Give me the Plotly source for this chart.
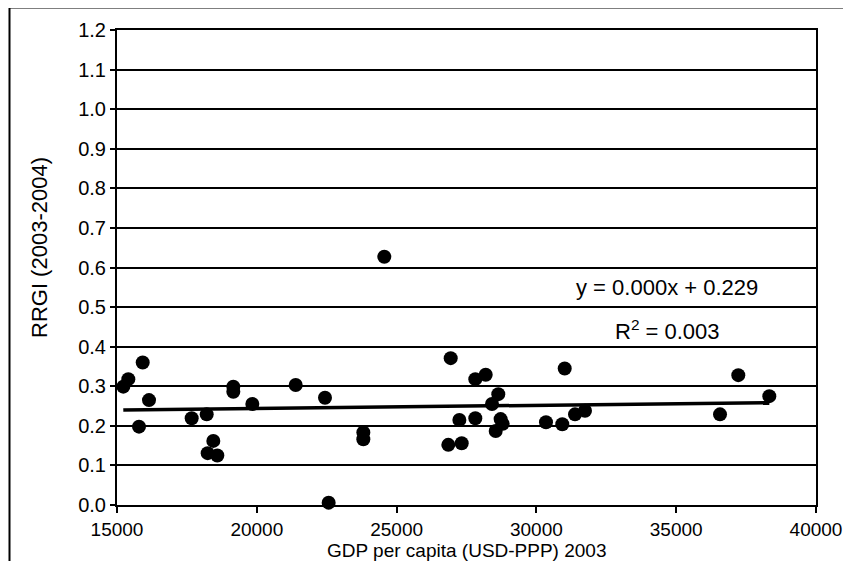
import numpy as np
import plotly.graph_objects as go

gdp = [15225, 15405, 15919, 16145, 15787, 17671, 18208, 18445, 18243, 18588,
       19160, 19160, 19840, 21391, 22439, 22570,
       24560, 23810, 23810, 26935, 27815, 28187, 28637, 28412, 27245, 27815,
       28720, 28794, 28544, 26849, 27328, 30343, 30926, 31012, 31381, 31738,
       37221, 38330, 36567]
rrgi = [0.299, 0.318, 0.360, 0.265, 0.198, 0.219, 0.229, 0.162, 0.131, 0.125,
        0.299, 0.286, 0.255, 0.303, 0.271, 0.006,
        0.627, 0.183, 0.166, 0.371, 0.318, 0.329, 0.280, 0.255, 0.215, 0.219,
        0.217, 0.205, 0.187, 0.152, 0.156, 0.209, 0.204, 0.345, 0.229, 0.238,
        0.328, 0.275, 0.229]

eq_text = "y = 0.000x + 0.229"
r2_text = "R<sup>2</sup> = 0.003"
x_ticks = [15000, 20000, 25000, 30000, 35000, 40000]
y_ticks = [0.0, 0.1, 0.2, 0.3, 0.4, 0.5, 0.6, 0.7, 0.8, 0.9, 1.0, 1.1, 1.2]

slope, intercept = np.polyfit(gdp, rrgi, 1)
tx = [min(gdp), max(gdp)]
ty = [slope * v + intercept for v in tx]

FONT = "Liberation Sans, Arial, sans-serif"

fig = go.Figure()
fig.add_trace(go.Scatter(x=gdp, y=rrgi, mode="markers",
                         marker=dict(color="black", size=14, line=dict(width=0)),
                         showlegend=False, cliponaxis=False))
fig.add_trace(go.Scatter(x=tx, y=ty, mode="lines",
                         line=dict(color="black", width=3.5), showlegend=False))

OFF = 8  # default page margin of the browser
W, H = 851 - 2 * OFF, 569 - 2 * OFF
L, R, T, B = 117 - OFF, 816 - OFF, 30 - OFF, 505 - OFF
pw, ph = R - L, B - T

def px(xs):
    return (xs - OFF - L) / pw

def py(ys):
    return (B - (ys - OFF)) / ph

fig.update_layout(
    width=W, height=H,
    margin=dict(l=L, r=W - R, t=T, b=H - B, pad=0, autoexpand=False),
    paper_bgcolor="white", plot_bgcolor="white",
    font=dict(family=FONT, color="black", size=20),
    xaxis=dict(range=[15000, 40000], tickvals=x_ticks, ticktext=[str(v) for v in x_ticks],
               showgrid=False, zeroline=False, showline=True, linecolor="black",
               linewidth=2, mirror=True, ticks="outside", ticklen=6, tickwidth=2,
               tickcolor="black", tickfont=dict(size=19, family=FONT),
               ticklabeloverflow="allow", automargin=False),
    yaxis=dict(range=[0, 1.2], tickvals=y_ticks, ticktext=[f"{v:.1f}" for v in y_ticks],
               showgrid=True, gridcolor="black", gridwidth=1.6, zeroline=False,
               showline=True, linecolor="black", linewidth=2, mirror=True,
               ticks="outside", ticklen=5, tickwidth=2, tickcolor="black",
               tickfont=dict(size=20, family=FONT), ticklabeloverflow="allow",
               automargin=False),
    shapes=[dict(type="path", xref="paper", yref="paper",
                 path=f"M {px(9.5)},{py(600)} L {px(9.5)},{py(7.5)} L {px(900)},{py(7.5)}",
                 line=dict(color="black", width=2))],
    annotations=[
        dict(text="GDP per capita (USD-PPP) 2003", xref="paper", yref="paper",
             x=px(467), y=py(550), showarrow=False, xanchor="center", yanchor="middle",
             font=dict(size=19, family=FONT)),
        dict(text="RRGI (2003-2004)", xref="paper", yref="paper",
             x=px(39), y=py(248), showarrow=False, textangle=-90,
             xanchor="center", yanchor="middle", font=dict(size=22, family=FONT)),
        dict(text=eq_text, xref="paper", yref="paper", x=px(667), y=py(287),
             showarrow=False, xanchor="center", yanchor="middle",
             font=dict(size=22, family=FONT)),
        dict(text=r2_text, xref="paper", yref="paper", x=px(667), y=py(330),
             showarrow=False, xanchor="center", yanchor="middle",
             font=dict(size=22, family=FONT)),
    ],
)

fig.write_html("out.html")
